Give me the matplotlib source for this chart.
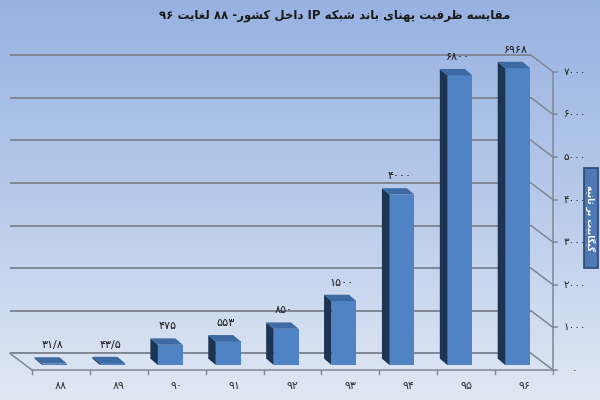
import numpy as np
import matplotlib
matplotlib.use("Agg")
import matplotlib.pyplot as plt
from matplotlib.patches import Polygon, Rectangle
from matplotlib.colors import LinearSegmentedColormap

plt.rcParams['font.family'] = ['DejaVu Sans']

# ---------------- data ----------------
categories = ["۸۸", "۸۹", "۹۰", "۹۱", "۹۲", "۹۳", "۹۴", "۹۵", "۹۶"]
values = [31.8, 43.5, 475, 553, 850, 1500, 4000, 6800, 6968]
value_labels = ["۳۱/۸", "۴۳/۵", "۴۷۵", "۵۵۳", "۸۵۰", "۱۵۰۰", "۴۰۰۰", "۶۸۰۰", "۶۹۶۸"]
yticks = [0, 1000, 2000, 3000, 4000, 5000, 6000, 7000]
ytick_labels = ["۰", "۱۰۰۰", "۲۰۰۰", "۳۰۰۰", "۴۰۰۰", "۵۰۰۰", "۶۰۰۰", "۷۰۰۰"]
title = "مقایسه ظرفیت پهنای باند شبکه IP داخل کشور- ۸۸ لغایت ۹۶"
ylabel = "گیگابیت بر ثانیه"

# ---------------- simple Persian shaping (visual order) ----------------
FORMS = {
    'ا': ('\uFE8D', '\uFE8E', None, None),
    'ب': ('\uFE8F', '\uFE90', '\uFE91', '\uFE92'),
    'پ': ('\uFB56', '\uFB57', '\uFB58', '\uFB59'),
    'ت': ('\uFE95', '\uFE96', '\uFE97', '\uFE98'),
    'ث': ('\uFE99', '\uFE9A', '\uFE9B', '\uFE9C'),
    'خ': ('\uFEA5', '\uFEA6', '\uFEA7', '\uFEA8'),
    'د': ('\uFEA9', '\uFEAA', None, None),
    'ر': ('\uFEAD', '\uFEAE', None, None),
    'س': ('\uFEB1', '\uFEB2', '\uFEB3', '\uFEB4'),
    'ش': ('\uFEB5', '\uFEB6', '\uFEB7', '\uFEB8'),
    'ظ': ('\uFEC5', '\uFEC6', '\uFEC7', '\uFEC8'),
    'غ': ('\uFECD', '\uFECE', '\uFECF', '\uFED0'),
    'ف': ('\uFED1', '\uFED2', '\uFED3', '\uFED4'),
    'ق': ('\uFED5', '\uFED6', '\uFED7', '\uFED8'),
    'ک': ('\uFB8E', '\uFB8F', '\uFB90', '\uFB91'),
    'گ': ('\uFB92', '\uFB93', '\uFB94', '\uFB95'),
    'ل': ('\uFEDD', '\uFEDE', '\uFEDF', '\uFEE0'),
    'م': ('\uFEE1', '\uFEE2', '\uFEE3', '\uFEE4'),
    'ن': ('\uFEE5', '\uFEE6', '\uFEE7', '\uFEE8'),
    'ه': ('\uFEE9', '\uFEEA', '\uFEEB', '\uFEEC'),
    'و': ('\uFEED', '\uFEEE', None, None),
    'ی': ('\uFBFC', '\uFBFD', '\uFBFE', '\uFBFF'),
}


def shape_word(w):
    out = []
    for i, c in enumerate(w):
        if c not in FORMS:
            out.append(c)
            continue
        prev = w[i - 1] if i > 0 else None
        nxt = w[i + 1] if i + 1 < len(w) else None
        jp = prev in FORMS and FORMS[prev][2] is not None
        jn = nxt in FORMS and FORMS[c][2] is not None
        iso, fin, ini, med = FORMS[c]
        if jp and jn:
            out.append(med)
        elif jp:
            out.append(fin)
        elif jn:
            out.append(ini)
        else:
            out.append(iso)
    return ''.join(out)


def is_arabic(w):
    return any(c in FORMS for c in w)


def rtl(text):
    toks = text.split(' ')
    vis = [shape_word(t)[::-1] if is_arabic(t) else t for t in toks]
    return ' '.join(reversed(vis))


# ---------------- geometry (data units) ----------------
PX_CAT = 57.89
PX_VAL = 0.0426
wall_dx, wall_dy = -0.38, 390
bar_fx, bar_fy = -0.11, 117
bar_ddx, bar_ddy = -0.13, 150
bar_w = 0.43

fig = plt.figure(figsize=(6, 4), dpi=100)
ax = fig.add_axes([0, 0, 1, 1])
x0 = -0.5 - 32 / PX_CAT
x1 = 8.5 + 47 / PX_CAT
y0 = -30 / PX_VAL
y1 = 370 / PX_VAL
ax.set_xlim(x0, x1)
ax.set_ylim(y0, y1)
ax.axis('off')

cmap = LinearSegmentedColormap.from_list('bg', ['#97b2e1', '#b8caea', '#e1e8f4'])
grad = np.linspace(0, 1, 256).reshape(-1, 1)
ax.imshow(grad, cmap=cmap, aspect='auto', extent=[x0, x1, y0, y1], zorder=0, origin='upper')

n = len(categories)
xs = np.arange(n)
gcol = '#7f8794'

# back wall gridlines + right connectors + right ticks
for v in yticks:
    ax.plot([-0.5 + wall_dx, n - 0.5 + wall_dx], [v + wall_dy, v + wall_dy],
            color=gcol, lw=1.4, zorder=1, solid_capstyle='butt')
    ax.plot([n - 0.5 + wall_dx, n - 0.5], [v + wall_dy, v], color=gcol, lw=1.1, zorder=1)
    ax.plot([n - 0.5, n - 0.5 + 0.07], [v, v], color=gcol, lw=1.1, zorder=1)
ax.plot([n - 0.5, n - 0.5], [0, yticks[-1]], color=gcol, lw=1.1, zorder=1)

# floor
ax.plot([-0.5 + wall_dx, -0.5], [wall_dy, 0], color=gcol, lw=1.1, zorder=1)
ax.plot([-0.5, n - 0.5], [0, 0], color=gcol, lw=1.1, zorder=1)
for k in range(n + 1):
    ax.plot([k - 0.5, k - 0.5], [0, -100], color=gcol, lw=1.0, zorder=1)

# bars
front_c = '#4f83c4'
side_c = '#1d3553'
top_c = '#3d6aa3'
bars = ax.bar(xs + bar_fx, values, width=bar_w, bottom=bar_fy, color=front_c,
              edgecolor='none', zorder=3)
for b, v in zip(bars, values):
    xl = b.get_x()
    xr = xl + b.get_width()
    yb = b.get_y()
    yt = yb + b.get_height()
    side = Polygon([(xl, yb), (xl, yt), (xl + bar_ddx, yt + bar_ddy), (xl + bar_ddx, yb + bar_ddy)],
                   closed=True, color=side_c, zorder=3, lw=0)
    top = Polygon([(xl, yt), (xr, yt), (xr + bar_ddx, yt + bar_ddy), (xl + bar_ddx, yt + bar_ddy)],
                  closed=True, color=top_c, zorder=3, lw=0)
    ax.add_patch(side)
    ax.add_patch(top)

# value labels
for x, v, lab in zip(xs, values, value_labels):
    ax.text(x + bar_fx - 0.04, v + bar_fy + 430, lab, ha='center', va='center',
            fontsize=8, color='#1a1a1a', zorder=4)

# category labels
for x, lab in zip(xs, categories):
    ax.text(x, -376, lab, ha='center', va='center', fontsize=8, color='#333333', zorder=4)

# right tick labels
for v, lab in zip(yticks, ytick_labels):
    ax.text(n - 0.5 + 0.38, v, lab, ha='center', va='center', fontsize=7.5,
            color='#222222', zorder=4)

# title
fig.text(335 / 600, 1 - 16 / 400, rtl(title), ha='center', va='center',
         fontsize=8.5, fontweight='bold', color='#1a1a1a')

# y label box
fig.patches.append(Rectangle((583.5 / 600, 1 - 268 / 400), 14 / 600, 100 / 400,
                             transform=fig.transFigure, facecolor='#4f79b4',
                             edgecolor='#2b4870', lw=1.2, zorder=5))
fig.text(590.5 / 600, 1 - 218 / 400, rtl(ylabel), rotation=270, ha='center', va='center',
         fontsize=6.3, fontweight='bold', color='white', zorder=6)

fig.savefig('out.png', dpi=100)
